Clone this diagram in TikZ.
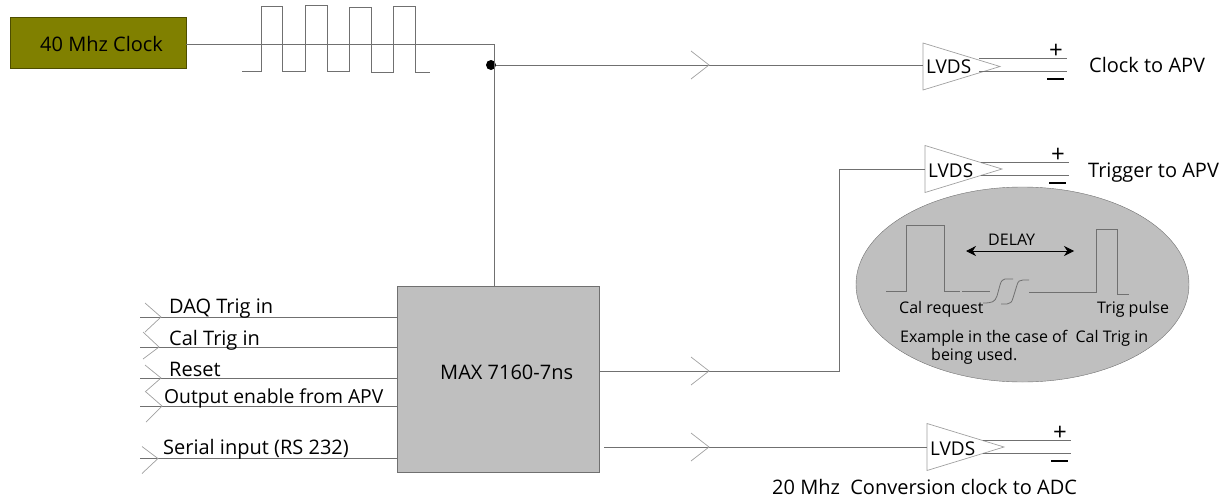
\documentclass[tikz,border=0pt]{standalone}
\usepackage{fontspec}
\setmainfont{Open Sans}
\usepackage{tikz}
\usetikzlibrary{arrows.meta,shapes.geometric}
\tikzset{
  wire/.style={draw=wireGray,line width=0.8pt},
  thinwire/.style={draw=chevGray,line width=0.7pt},
  lab/.style={inner sep=0pt,anchor=west,text=black,text height=14pt,text depth=0pt,font=\fontsize{20}{22}\selectfont},
  smalllab/.style={inner sep=0pt,anchor=west,text=black,text height=11.5pt,text depth=0pt,font=\fontsize{16}{18}\selectfont},
  sign/.style={inner sep=0pt,text=black,font=\fontsize{24}{26}\selectfont},
}
\begin{document}
\begin{tikzpicture}[x=1pt,y=-1pt]
\definecolor{wireGray}{HTML}{707070}
\definecolor{chevGray}{HTML}{A0A0A0}
\definecolor{clockFill}{HTML}{808000}
\definecolor{blockFill}{HTML}{BFBFBF}
\useasboundingbox (0,0) rectangle (1229,501);
% clock source
\node[draw=clockFill!60!black,fill=clockFill,minimum width=176pt,minimum height=51pt,inner sep=0pt] (clockBox) at (98,42.5) {};
\node[lab] (clockLab) at (40,44) {40 Mhz Clock};
\coordinate (tee) at (494,44);
\coordinate (teeEnd) at (494,288);
\node[circle,fill=black,inner sep=0pt,minimum size=10pt] (junction) at (491,65) {};
\draw[wire] (clockBox.east |- tee) -- (tee) -- (teeEnd);
\draw[wire] (242,71) -- (261,71) -- (261,6) -- (282,6) -- (282,71) -- (305,71) -- (305,5) -- (327,5) -- (327,71)
  -- (349,71) -- (349,7) -- (371,7) -- (371,72) -- (393,72) -- (393,6) -- (415,6) -- (415,72) -- (430,72);
% main block
\node[draw=wireGray,fill=blockFill,minimum width=202pt,minimum height=186pt,inner sep=0pt] (maxBox) at (498,379) {};
\node[lab] (maxLab) at (440,372) {MAX 7160-7ns};
% drivers
\foreach \drv/\x/\y/\tri in {lvdsClock/923/65/1.5,lvdsTrig/925/169/0,lvdsConv/927/447/0} {
  \begin{scope}[shift={(\x,\y)}]
    \draw[thinwire] (0,\tri-23.5) -- (77,\tri) -- (0,\tri+23.5) -- cycle;
    \coordinate (\drv-in) at (0,0);
    \node[lab,font=\fontsize{19}{21}\selectfont] (\drv) at (3,1) {LVDS};
    \draw[wire] (56,-6.5) -- (144,-6.5);
    \draw[wire] (56,6.5) -- (144,6.5);
    \node[sign] (\drv-plus) at (133,-14) {+};
    \draw[line width=1.1pt,black] (124,14) -- (141,14);
  \end{scope}
}
\node[lab] (clockOut) at (1089,65) {Clock to APV};
\node[lab] (trigOut) at (1088,170) {Trigger to APV};
\node[lab] (convOut) at (772,487) {20 Mhz\ \ Conversion clock to ADC};
% outputs of the block
\coordinate (trigPin) at (600,371);
\coordinate (trigBend) at (839,371);
\coordinate (convPin) at (604,447);
\draw[wire] (junction) -- (lvdsClock-in);
\draw[wire] (trigPin) -- (trigBend) |- (lvdsTrig-in);
\draw[wire] (convPin) -- (lvdsConv-in);
\foreach \x/\y in {709/65,709/371,709/447} {
  \draw[thinwire] (\x-18,\y-14) -- (\x,\y) -- (\x-18,\y+14);
}
% inputs of the block
\foreach \pin/\y/\tip/\up/\dn/\lab/\lx/\ly in {
  daqIn/317/161/14/15/DAQ Trig in/169/306.5,
  calIn/347/159/15/12/Cal Trig in/169/338,
  resetIn/378/161/13/14/Reset/169/369,
  enableIn/406/162/14/16/{\fontsize{19.3}{21}\selectfont Output enable from APV}/164/396.5,
  serialIn/458.5/158/12/15/Serial input (RS 232)/163/447} {
  \coordinate (\pin) at (140,\y);
  \draw[wire] (\pin) -- (\pin -| maxBox.west);
  \draw[thinwire] (\tip-16,\y-\up) -- (\tip,\y) -- (\tip-16,\y+\dn);
  \node[lab] (\pin-lab) at (\lx,\ly) {\lab};
}
% delay example
\node[draw=wireGray,fill=blockFill,ellipse,minimum width=333pt,minimum height=195pt,inner sep=0pt] (delayOval) at (1022.5,284.5) {};
\draw[wire] (886,291) -- (906,291) -- (906,225) -- (944,225) -- (944,291) -- (960,291);
\draw[wire] (962,291) -- (990,291);
\draw[wire] (983,303) .. controls (992,303) and (995,302) .. (997,296) -- (1000,285) .. controls (1001,281) and (1003,279) .. (1005,279) -- (1013,279);
\draw[wire] (1001,304) -- (1007,304) .. controls (1010,304) and (1012,302) .. (1013,298) -- (1017,285) .. controls (1018,281) and (1020,280) .. (1023,280) -- (1029,280);
\draw[wire] (1029,292) -- (1096,292) -- (1096,229) -- (1117,229) -- (1117,294) -- (1129,294);
\coordinate (delayL) at (966,251);
\coordinate (delayR) at (1074,251);
\draw[draw=black,line width=0.7pt,{Stealth[length=10pt,width=10pt]}-{Stealth[length=10pt,width=10pt]}] (delayL) -- (delayR);
\node[smalllab] (delayLab) at (988,240) {DELAY};
\node[smalllab] (calLab) at (899,308) {Cal request};
\node[smalllab] (trigLab) at (1097,308) {Trig pulse};
\node[smalllab] (noteLab) at (900,336.5) {Example in the case of\ \ Cal Trig in};
\node[smalllab] (noteLabB) at (931,355) {being used.};
\end{tikzpicture}
\end{document}
